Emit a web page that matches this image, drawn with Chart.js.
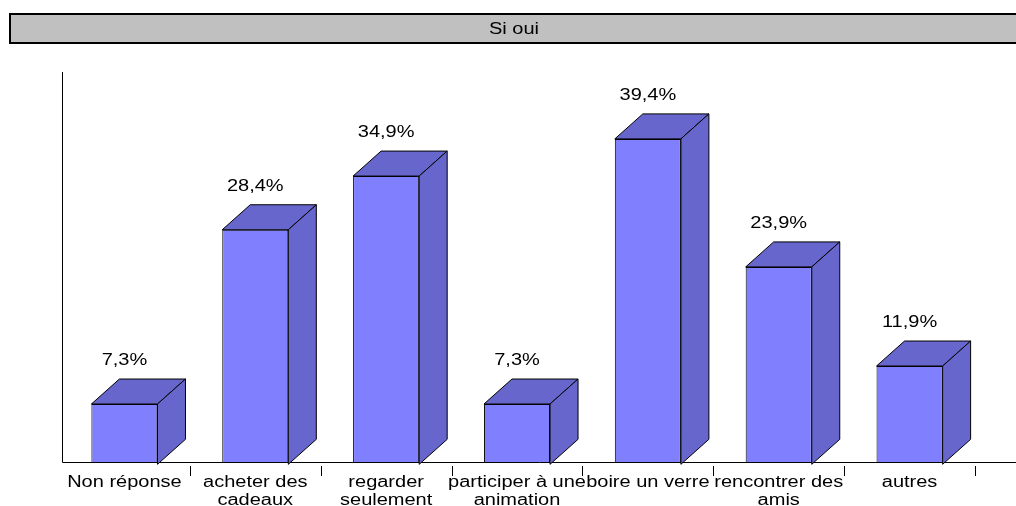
<!DOCTYPE html>
<html>
<head>
<meta charset="utf-8">
<script src="https://cdn.jsdelivr.net/npm/chart.js@4"></script>
<style>
  body { margin: 0; background: #fff; }
  #wrap { width: 1016px; height: 506px; }
</style>
</head>
<body>
<div id="wrap"><canvas id="chart" width="1016" height="506"></canvas></div>
<script>
const titleText = 'Si oui';
const categories = [
    ['Non réponse'],
    ['acheter des', 'cadeaux'],
    ['regarder', 'seulement'],
    ['participer à une', 'animation'],
    ['boire un verre'],
    ['rencontrer des', 'amis'],
    ['autres']
];
const percents = [7.3, 28.4, 34.9, 7.3, 39.4, 23.9, 11.9];

const FONT = '"Liberation Sans", Arial, sans-serif';
const depthX = 28;
const depthY = 25;
// the original text is drawn wider than plain Arial
const stretch = 1.25;

function wideText(ctx, txt, x, y) {
    ctx.save();
    ctx.translate(x, y);
    ctx.scale(stretch, 1);
    ctx.fillText(txt, 0, 0);
    ctx.restore();
}

// grey box with the title
const titleBox = {
    id: 'titleBox',
    beforeDraw(chart) {
        const ctx = chart.ctx;
        ctx.save();
        ctx.fillStyle = '#C0C0C0';
        ctx.fillRect(10, 14, 1010, 29);
        ctx.strokeStyle = '#000';
        ctx.lineWidth = 2;
        ctx.strokeRect(10, 14, 1010, 29);
        ctx.fillStyle = '#000';
        ctx.font = '16px ' + FONT;
        ctx.textAlign = 'center';
        ctx.textBaseline = 'middle';
        wideText(ctx, titleText, 514, 30);
        ctx.restore();
    }
};

// axes lines, small tick marks between categories, category names
const axesLines = {
    id: 'axesLines',
    beforeDatasetsDraw(chart) {
        const ctx = chart.ctx;
        const area = chart.chartArea;
        const xs = chart.scales.x;
        ctx.save();
        ctx.strokeStyle = '#000';
        ctx.lineWidth = 1;
        ctx.beginPath();
        ctx.moveTo(62.5, area.top);
        ctx.lineTo(62.5, area.bottom + 0.5);
        ctx.lineTo(1016, area.bottom + 0.5);
        const half = (xs.getPixelForValue(1) - xs.getPixelForValue(0)) / 2;
        for (let i = 0; i < categories.length; i++) {
            const x = Math.round(xs.getPixelForValue(i) + half) + 0.5;
            ctx.moveTo(x, area.bottom + 4);
            ctx.lineTo(x, area.bottom + 14);
        }
        ctx.stroke();

        ctx.fillStyle = '#000';
        ctx.font = '16px ' + FONT;
        ctx.textAlign = 'center';
        ctx.textBaseline = 'middle';
        categories.forEach((lines, i) => {
            const x = xs.getPixelForValue(i);
            lines.forEach((line, j) => {
                wideText(ctx, line, x, area.bottom + 21 + j * 18);
            });
        });
        ctx.restore();
    }
};

// top and side faces of each bar, then the value above
const bars3d = {
    id: 'bars3d',
    afterDatasetsDraw(chart) {
        const ctx = chart.ctx;
        const meta = chart.getDatasetMeta(0);
        ctx.save();
        ctx.strokeStyle = '#000';
        ctx.lineWidth = 1;
        meta.data.forEach((bar, i) => {
            const left = bar.x - bar.width / 2;
            const right = bar.x + bar.width / 2;
            const top = bar.y;
            const base = bar.base;
            ctx.fillStyle = '#6666CC';
            // top face
            ctx.beginPath();
            ctx.moveTo(left, top);
            ctx.lineTo(left + depthX, top - depthY);
            ctx.lineTo(right + depthX, top - depthY);
            ctx.lineTo(right, top);
            ctx.closePath();
            ctx.fill();
            ctx.stroke();
            // side face
            ctx.beginPath();
            ctx.moveTo(right, top);
            ctx.lineTo(right + depthX, top - depthY);
            ctx.lineTo(right + depthX, base - depthY);
            ctx.lineTo(right, base);
            ctx.closePath();
            ctx.fill();
            ctx.stroke();

            ctx.fillStyle = '#000';
            ctx.font = '16px ' + FONT;
            ctx.textAlign = 'center';
            ctx.textBaseline = 'middle';
            const txt = percents[i].toFixed(1).replace('.', ',') + '%';
            wideText(ctx, txt, bar.x, top - depthY - 18);
        });
        ctx.restore();
    }
};

new Chart(document.getElementById('chart'), {
    type: 'bar',
    data: {
        labels: categories,
        datasets: [{
            data: percents,
            backgroundColor: '#8080FF',
            borderColor: '#000',
            borderWidth: 1,
            categoryPercentage: 1,
            barPercentage: 0.505
        }]
    },
    options: {
        responsive: false,
        animation: false,
        layout: { padding: { left: 59, right: 41, top: 72, bottom: 0 } },
        plugins: {
            legend: { display: false },
            tooltip: { enabled: false },
            title: { display: false }
        },
        scales: {
            x: {
                grid: { display: false, drawTicks: false },
                border: { display: false },
                ticks: { display: false },
                afterFit(scale) { scale.height = 44; }
            },
            y: {
                display: false,
                min: 0.28,
                max: 47.5
            }
        }
    },
    plugins: [titleBox, axesLines, bars3d]
});
</script>
</body>
</html>
